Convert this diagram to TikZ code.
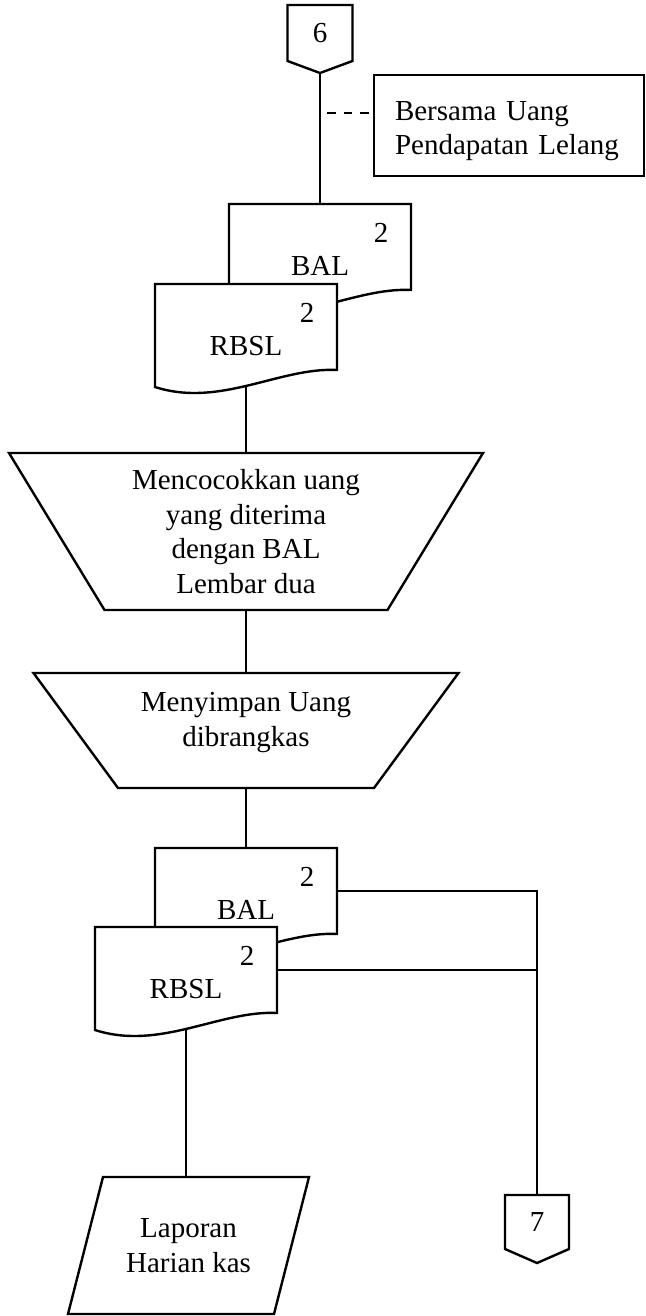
\documentclass[tikz,border=0pt]{standalone}
\usepackage{fontspec}
\setmainfont{Liberation Serif}
\usetikzlibrary{calc}
\pgfdeclarelayer{bg}
\pgfdeclarelayer{shapes}
\pgfsetlayers{bg,shapes,main}

\tikzset{
  every node/.style={font=\fontsize{29}{34.5}\selectfont, inner sep=0pt},
  outline/.style={draw, line width=2.4pt, fill=white, line join=miter},
  area/.style={inner sep=0pt, outer sep=0pt},
  link/.style={draw, line width=2.4pt},
  notelink/.style={draw, line width=2.4pt, dash pattern=on 8.5pt off 8pt},
}

% document symbol: name, left, top, title
\newcommand\docsheet[4]{%
  \begin{scope}[shift={(#2,#3)}]
    \node[area, minimum width=182pt, minimum height=86pt] (#1) at (91,43) {};
    \node (#1-copy) at (152,29) {2};
    \node (#1-title) at (91,62) {#4};
    \begin{pgfonlayer}{shapes}
      \path[outline] (0,0) -- (182,0) -- (182,86)
        .. controls (125,83) and (65,124) .. (0,103) -- cycle;
    \end{pgfonlayer}
  \end{scope}}

\begin{document}
\begin{tikzpicture}[x=1pt, y=-1pt]
\useasboundingbox (0,0) rectangle (645,1316);
\begin{pgfonlayer}{bg}
  \fill[white] (0,0) rectangle (645,1316);
\end{pgfonlayer}

% off-page connector 6
\node[area, minimum width=65pt, minimum height=56pt] (c6) at (320,33) {6};
\begin{pgfonlayer}{shapes}
  \path[outline] (c6.north west) -- (c6.north east) -- (c6.south east)
    -- ([yshift=-12pt]c6.south) -- (c6.south west) -- cycle;
\end{pgfonlayer}

% annotation
\node[draw, line width=2.4pt, fill=white, minimum width=270pt, minimum height=101pt,
      text width=228pt, align=left] (note) at (509,125.5)
      {\rule{0pt}{30pt}Bersama Uang\\Pendapatan Lelang};
\coordinate (dashstart) at (327,113);

% documents received
\docsheet{bal1}{229}{204}{BAL}
\docsheet{rbsl1}{155}{284}{RBSL}

% manual operations
\node[area, minimum width=474pt, minimum height=157pt, align=center] (trap1) at (246,531.5)
  {Mencocokkan uang\\yang diterima\\dengan BAL\\Lembar dua};
\begin{pgfonlayer}{shapes}
  \path[outline] (trap1.north west) -- (trap1.north east)
    -- ([xshift=-95.5pt]trap1.south east) -- ([xshift=95.5pt]trap1.south west) -- cycle;
\end{pgfonlayer}

\node[area, minimum width=425pt, minimum height=115pt] (trap2) at (246,730.5) {};
\node[align=center] (trap2-text) at (246,722.5) {Menyimpan Uang\\dibrangkas};
\begin{pgfonlayer}{shapes}
  \path[outline] (trap2.north west) -- (trap2.north east)
    -- ([xshift=-84.5pt]trap2.south east) -- ([xshift=84.5pt]trap2.south west) -- cycle;
\end{pgfonlayer}

% documents after storage
\docsheet{bal2}{155}{848}{BAL}
\docsheet{rbsl2}{95}{927}{RBSL}

% report output
\node[area, minimum width=241pt, minimum height=137pt, align=center] (lap) at (188.5,1245.5)
  {Laporan\\Harian kas};
\begin{pgfonlayer}{shapes}
  \path[outline] ([xshift=35pt]lap.north west) -- (lap.north east)
    -- ([xshift=-35pt]lap.south east) -- (lap.south west) -- cycle;
\end{pgfonlayer}

% off-page connector 7
\node[area, minimum width=64pt, minimum height=54pt] (c7) at (537,1222) {7};
\begin{pgfonlayer}{shapes}
  \path[outline] (c7.north west) -- (c7.north east) -- (c7.south east)
    -- ([yshift=-14pt]c7.south) -- (c7.south west) -- cycle;
\end{pgfonlayer}

% flow lines
\begin{pgfonlayer}{bg}
  \path[link] (c6.south) -- (bal1.north);
  \path[notelink] (dashstart) -- (dashstart -| note.west);
  \path[link] (rbsl1.south) -- (trap1.north);
  \path[link] (trap1.south) -- (trap2.north);
  \path[link] (trap2.south) -- (bal2.north);
  \path[link] (rbsl2.south) -- (rbsl2.south |- lap.north);
  \path[link] (bal2.east) -| (c7.north);
  \path[link] (rbsl2.east) -- (rbsl2.east -| c7.north);
\end{pgfonlayer}
\end{tikzpicture}
\end{document}
